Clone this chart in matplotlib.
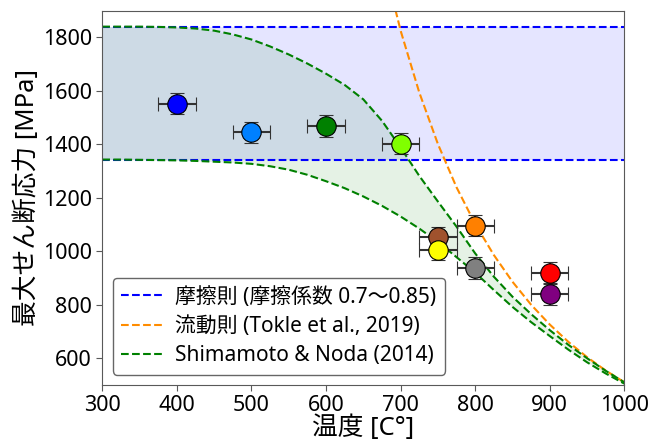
import numpy as np
import matplotlib
matplotlib.use('Agg')
from matplotlib import pyplot as plt

plt.rcParams['font.family'] = ['Noto Sans', 'Noto Sans CJK JP', 'DejaVu Sans']

# 実験データ (温度, 最大せん断応力)
temp = [400, 500, 600, 700, 750, 750, 800, 800, 900, 900]
stress = [1552, 1445, 1468, 1402, 1052, 1006, 1096, 938, 919, 840]
colors = ['#0000ff', '#0080ff', '#008000', '#80ff00', '#a0522d',
          '#ffff00', '#ff8000', '#808080', '#ff0000', '#800080']
temp_err = 25
stress_err = 40

# 摩擦則 (摩擦係数 0.7 と 0.85)
fric_low = 1343
fric_high = 1840

# 曲線の温度
curve_t = [300, 325, 350, 375, 400, 425, 450, 475, 500, 525, 550, 575, 600, 625,
           650, 675, 700, 725, 750, 775, 800, 825, 850, 875, 900, 925, 950, 975, 1000]
# Shimamoto & Noda (2014): 上限と下限
sn_high = [1840, 1840, 1840, 1839, 1837, 1833, 1825, 1811, 1792, 1766, 1736, 1702, 1664, 1622,
           1568, 1488, 1388, 1282, 1186, 1092, 992, 905, 830, 765, 705, 650, 600, 553, 510]
sn_low = [1343, 1343, 1342, 1341, 1340, 1338, 1335, 1332, 1327, 1318, 1305, 1286, 1262, 1236,
          1205, 1170, 1130, 1085, 1035, 978, 920, 855, 792, 735, 683, 632, 585, 543, 505]
# 流動則 (Tokle et al., 2019)
flow_t = [675, 700, 725, 750, 775, 800, 825, 850, 875, 900, 925, 950, 975, 1000]
flow = [2105, 1825, 1594, 1401, 1239, 1102, 986, 886, 800, 726, 661, 604, 554, 510]

fig = plt.figure(figsize=(6.6, 4.42), dpi=100)
ax = fig.add_axes([0.155, 0.129, 0.791, 0.847])

ax.axhspan(fric_low, fric_high, color='blue', alpha=0.1, lw=0)
ax.axhline(fric_high, color='blue', ls='--', lw=1.5, label='摩擦則 (摩擦係数 0.7〜0.85)')
ax.axhline(fric_low, color='blue', ls='--', lw=1.5)

ax.plot(flow_t, flow, color='darkorange', ls='--', lw=1.5, label='流動則 (Tokle et al., 2019)')

ax.fill_between(curve_t, sn_low, sn_high, color='green', alpha=0.1, lw=0)
ax.plot(curve_t, sn_high, color='green', ls='--', lw=1.5, label='Shimamoto & Noda (2014)')
ax.plot(curve_t, sn_low, color='green', ls='--', lw=1.5)

for x, y, c in zip(temp, stress, colors):
    ax.errorbar(x, y, xerr=temp_err, yerr=stress_err, fmt='o', ms=14, mfc=c, mec='k',
                mew=0.8, ecolor='#333333', elinewidth=1.5, capsize=5, capthick=1.5, zorder=5)

ax.set_xlim(300, 1000)
ax.set_ylim(500, 1900)
ax.set_xticks(range(300, 1001, 100))
ax.set_yticks(range(600, 1801, 200))
ax.tick_params(labelsize=15.5, length=4, color='0.35')
for s in ax.spines.values():
    s.set_color('0.35')

ax.set_xlabel('温度 [C°]', fontsize=18.5, labelpad=-1)
ax.set_ylabel('最大せん断応力 [MPa]', fontsize=18.5, labelpad=2)
ax.legend(loc='lower left', fontsize=15, labelspacing=0.4, handletextpad=0.6,
          edgecolor='0.4', framealpha=1)

fig.savefig('out.png', dpi=100)
